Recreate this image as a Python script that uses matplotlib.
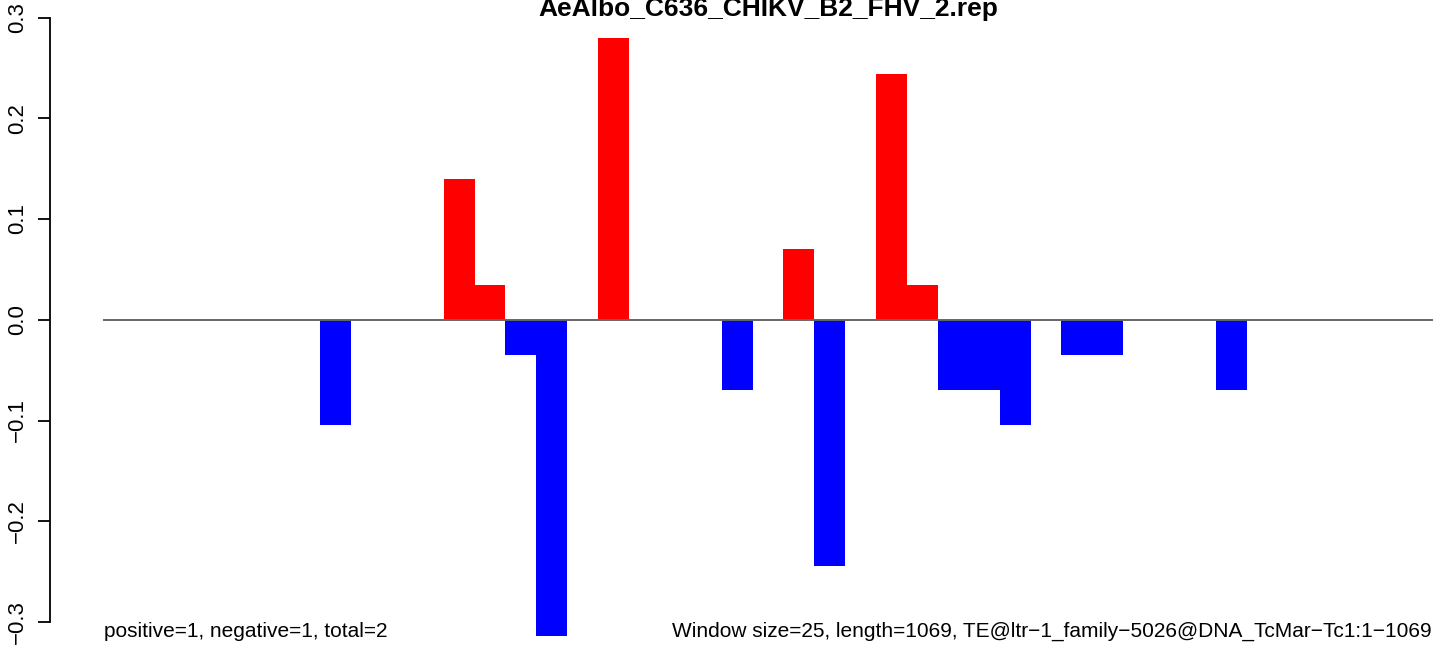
import matplotlib
matplotlib.use("Agg")
import matplotlib.pyplot as plt
import numpy as np

plt.rcParams['font.family'] = ['Liberation Sans', 'DejaVu Sans']

title = "AeAlbo_C636_CHIKV_B2_FHV_2.rep"
n_windows = 43
unit = 0.0349
# window index -> signal (in units)
pos_idx = [11, 12, 16, 22, 25, 26]
pos_units = [4, 1, 8, 2, 7, 1]
neg_idx = [7, 13, 14, 20, 23, 27, 28, 29, 31, 32, 36]
neg_units = [3, 1, 9, 2, 7, 2, 2, 3, 1, 1, 2]
yticks = [-0.3, -0.2, -0.1, 0.0, 0.1, 0.2, 0.3]
left_text = "positive=1, negative=1, total=2"
right_text = "Window size=25, length=1069, TE@ltr\u22121_family\u22125026@DNA_TcMar\u2212Tc1:1\u22121069"

W, H = 1444, 648
fig = plt.figure(figsize=(W / 100, H / 100), dpi=100)
ax = fig.add_axes([0, 0, 1, 1])

# pixel mapping
x0_px, bw_px = 104.0, 1328.0 / n_windows
xl = -x0_px / bw_px
xr = (W - x0_px) / bw_px
ax.set_xlim(xl, xr)
py = 0.6 / (622.0 - 17.5)
ytop = 0.3 + 17.5 * py
ybot = -0.3 - (H - 622.0) * py
ax.set_ylim(ybot, ytop)

pv = np.array(pos_units) * unit
nv = -np.array(neg_units) * unit
ax.bar(np.array(pos_idx), pv, width=1.0, align='edge', color='#ff0000', linewidth=0)
ax.bar(np.array(neg_idx), nv, width=1.0, align='edge', color='#0000ff', linewidth=0)
ax.plot([0, n_windows], [0, 0], color='#666666', lw=1.4, zorder=3)

for s in ['top', 'right', 'bottom']:
    ax.spines[s].set_visible(False)
ax.spines['left'].set_position(('data', (50 - x0_px) / bw_px))
ax.spines['left'].set_bounds(-0.3, 0.3)
ax.spines['left'].set_linewidth(1.3)
ax.set_yticks(yticks)
ax.set_yticklabels([f"{v:.1f}".replace('-', '\u2212') for v in yticks],
                   rotation=90, va='center', fontsize=16)
ax.tick_params(axis='y', length=8.6, width=1.3, pad=7)
ax.set_xticks([])

fig.text((104 + 1432) / 2 / W, 1 - 16 / H, title, ha='center', va='baseline',
         fontsize=19, fontweight='bold')
fig.text(104 / W, 1 - 637 / H, left_text, ha='left', va='baseline', fontsize=15)
fig.text(1432 / W, 1 - 637 / H, right_text, ha='right', va='baseline', fontsize=15)

fig.savefig("out.png", dpi=100)
